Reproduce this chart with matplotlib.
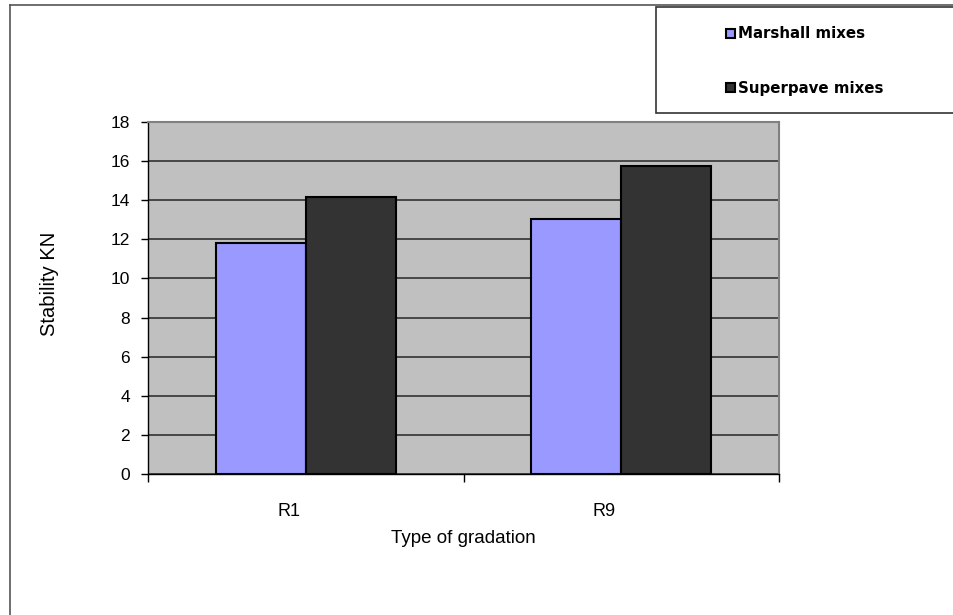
import numpy as np
import matplotlib.pyplot as plt
from matplotlib.lines import Line2D
from matplotlib.patches import Rectangle
import matplotlib.transforms as mtransforms

plt.rcParams['font.family'] = ['Liberation Sans', 'DejaVu Sans']

gradations = ['R1', 'R9']
marshall = [11.8, 13.05]
superpave = [14.15, 15.75]
series_names = ['Marshall mixes', 'Superpave mixes']
colors = ['#9999FF', '#333333']

W, H = 954, 615
fig = plt.figure(figsize=(W / 100, H / 100), dpi=100)

# plot area in pixel coordinates
left, right, top, bottom = 148, 779, 122, 474
ax = fig.add_axes([left / W, 1 - bottom / H, (right - left) / W, (bottom - top) / H])
ax.set_facecolor('#C0C0C0')

x = np.arange(len(gradations))
w = 2 / 7  # gap width 150%
bars_m = ax.bar(x - w / 2, marshall, w, color=colors[0], edgecolor='black', linewidth=1.5, zorder=3)
bars_s = ax.bar(x + w / 2, superpave, w, color=colors[1], edgecolor='black', linewidth=1.5, zorder=3)

ax.set_xlim(-0.5, len(gradations) - 0.5)
ax.set_ylim(0, 18)
ax.set_yticks(np.arange(0, 19, 2))
ax.yaxis.grid(True, color='#333333', linewidth=1.2, zorder=1)
ax.set_axisbelow(True)

# category ticks sit on the boundaries, labels in between
ax.set_xticks([-0.5, 0.5, 1.5])
ax.set_xticklabels([])
ax.set_xticks(x, minor=True)
ax.set_xticklabels(gradations, minor=True, fontsize=13)
ax.tick_params(axis='x', which='minor', length=0, pad=21)
ax.tick_params(axis='x', which='major', length=6, width=1, direction='out')
ax.tick_params(axis='y', length=5, width=1, labelsize=12.5, pad=8)
shift = mtransforms.ScaledTranslation(-0.17, 0, fig.dpi_scale_trans)
for lbl in ax.xaxis.get_minorticklabels():
    lbl.set_transform(lbl.get_transform() + shift)

for side in ['top', 'right']:
    ax.spines[side].set_color('#808080')
    ax.spines[side].set_linewidth(1.5)
ax.spines['left'].set_linewidth(1)
ax.spines['bottom'].set_linewidth(1)

ax.set_xlabel('Type of gradation', fontsize=13.5, labelpad=7)
fig.text(50 / W, 1 - 284 / H, 'Stability KN', rotation=90, ha='center', va='center', fontsize=14.5)

# chart area border (left and top only)
fig.add_artist(Line2D([10 / W, 10 / W], [0, 1 - 5 / H], color='#555555', linewidth=1.2))
fig.add_artist(Line2D([10 / W, 1], [1 - 5 / H, 1 - 5 / H], color='#555555', linewidth=1.2))

# legend box
fig.add_artist(Rectangle((656 / W, 1 - 113 / H), (W - 656 + 5) / W, 106 / H,
                         transform=fig.transFigure, facecolor='white', edgecolor='#333333',
                         linewidth=1.2, clip_on=False))
leg = fig.legend([bars_m, bars_s], series_names, loc='center left',
                 bbox_to_anchor=(713 / W, 1 - 61 / H), frameon=False,
                 handlelength=0.55, handleheight=0.55, handletextpad=0.25,
                 labelspacing=2.6,
                 prop={'family': 'DejaVu Sans', 'weight': 'bold', 'size': 10.8})

fig.savefig('out.png', dpi=100)
plt.close(fig)
